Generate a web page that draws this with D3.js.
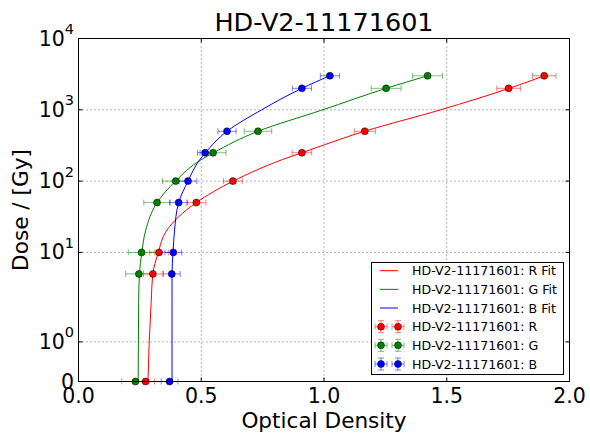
<!DOCTYPE html>
<html>
<head>
<meta charset="utf-8">
<script src="https://cdn.jsdelivr.net/npm/d3@7"></script>
<style>
    body { margin: 0; background: #fff; }
    text { font-family: "DejaVu Sans", sans-serif; fill: #000; }
</style>
</head>
<body>
<div id="chart"></div>
<script>
// measured doses and optical densities per channel
const doses = [0, 5, 10, 50, 100, 250, 500, 2000, 3000];
const odR = [0.273, 0.303, 0.328, 0.480, 0.629, 0.910, 1.166, 1.752, 1.897];
const odG = [0.232, 0.246, 0.257, 0.320, 0.396, 0.548, 0.731, 1.253, 1.422];
const odB = [0.371, 0.380, 0.386, 0.408, 0.446, 0.516, 0.605, 0.910, 1.024];
const errR = [0.037, 0.038, 0.038, 0.039, 0.038, 0.040, 0.043, 0.048, 0.048];
const errG = [0.056, 0.054, 0.054, 0.054, 0.054, 0.053, 0.056, 0.061, 0.061];
const errB = [0.034, 0.034, 0.034, 0.037, 0.036, 0.031, 0.037, 0.039, 0.039];

// fit curves
const fitDose = [0, 1, 2, 5, 10, 20, 50, 100, 200, 250, 500, 1000, 2000, 3000];
const fitR = [0.283, 0.288, 0.296, 0.303, 0.325, 0.358, 0.480, 0.630, 0.830, 0.910, 1.165, 1.475, 1.754, 1.897];
const fitG = [0.243, 0.244, 0.245, 0.248, 0.258, 0.273, 0.320, 0.395, 0.500, 0.550, 0.731, 0.995, 1.253, 1.422];
const fitB = [0.381, 0.381, 0.381, 0.381, 0.385, 0.391, 0.408, 0.446, 0.494, 0.517, 0.605, 0.746, 0.910, 1.023];

const xTicks = [0, 0.5, 1.0, 1.5, 2.0];
const yTicks = [0, 1, 10, 100, 1000, 10000];
const title = 'HD-V2-11171601';

const width = 590, height = 434;
const mL = 78.5, mR = 569.5, mT = 38.5, mB = 381.5;

// matplotlib style symlog (linthresh 2, linscale 1)
const linthresh = 2, linAdj = 1 / (1 - 1 / 10);
function symlog(v) {
    if (Math.abs(v) <= linthresh) return v * linAdj;
    return Math.sign(v) * linthresh * (linAdj + Math.log10(Math.abs(v) / linthresh));
}

const x = d3.scaleLinear().domain([0, 2]).range([mL, mR]);
const yLin = d3.scaleLinear().domain([symlog(0), symlog(10000)]).range([mB, mT]);
const y = v => yLin(symlog(v));

const svg = d3.select('#chart')
    .append('svg')
    .attr('width', width)
    .attr('height', height);

// grid
const grid = svg.append('g')
    .attr('stroke', '#000')
    .attr('stroke-width', 0.6)
    .attr('stroke-dasharray', '1,3');
xTicks.slice(1, -1).forEach(t => {
    grid.append('line')
        .attr('x1', x(t)).attr('x2', x(t))
        .attr('y1', mT).attr('y2', mB);
});
yTicks.slice(1, -1).forEach(t => {
    grid.append('line')
        .attr('x1', mL).attr('x2', mR)
        .attr('y1', y(t)).attr('y2', y(t));
});

const series = [
    { name: 'R', color: '#ff0000', od: odR, err: errR, fit: fitR },
    { name: 'G', color: '#008000', od: odG, err: errG, fit: fitG },
    { name: 'B', color: '#0000ff', od: odB, err: errB, fit: fitB }
];

const plot = svg.append('g');

// fit lines (ordered top to bottom so screen y increases)
const line = d3.line()
    .x(d => x(d[0]))
    .y(d => y(d[1]))
    .curve(d3.curveMonotoneY);

series.forEach(s => {
    const pts = fitDose.map((d, i) => [s.fit[i], d]).reverse();
    plot.append('path')
        .attr('d', line(pts))
        .attr('fill', 'none')
        .attr('stroke', s.color)
        .attr('stroke-width', 1);
});

// error bars
series.forEach(s => {
    const g = plot.append('g')
        .attr('stroke', s.color)
        .attr('stroke-opacity', 0.5)
        .attr('stroke-width', 1);
    doses.forEach((d, i) => {
        const x0 = x(s.od[i] - s.err[i]), x1 = x(s.od[i] + s.err[i]), yy = y(d);
        g.append('line').attr('x1', x0).attr('x2', x1).attr('y1', yy).attr('y2', yy);
        g.append('line').attr('x1', x0).attr('x2', x0).attr('y1', yy - 3).attr('y2', yy + 3);
        g.append('line').attr('x1', x1).attr('x2', x1).attr('y1', yy - 3).attr('y2', yy + 3);
    });
});

// markers
series.forEach(s => {
    plot.append('g')
        .selectAll('circle')
        .data(doses)
        .join('circle')
        .attr('cx', (d, i) => x(s.od[i]))
        .attr('cy', d => y(d))
        .attr('r', 3.5)
        .attr('fill', s.color)
        .attr('stroke', '#000')
        .attr('stroke-width', 0.5);
});

// frame
svg.append('rect')
    .attr('x', mL).attr('y', mT)
    .attr('width', mR - mL).attr('height', mB - mT)
    .attr('fill', 'none')
    .attr('stroke', '#000')
    .attr('stroke-width', 1);

// ticks, inside on all four sides
const ticks = svg.append('g').attr('stroke', '#000').attr('stroke-width', 1);
xTicks.forEach(t => {
    ticks.append('line').attr('x1', x(t)).attr('x2', x(t)).attr('y1', mB).attr('y2', mB - 4);
    ticks.append('line').attr('x1', x(t)).attr('x2', x(t)).attr('y1', mT).attr('y2', mT + 4);
});
yTicks.forEach(t => {
    ticks.append('line').attr('x1', mL).attr('x2', mL + 4).attr('y1', y(t)).attr('y2', y(t));
    ticks.append('line').attr('x1', mR).attr('x2', mR - 4).attr('y1', y(t)).attr('y2', y(t));
});

// tick labels
xTicks.forEach(t => {
    svg.append('text')
        .attr('x', x(t))
        .attr('y', 403)
        .attr('text-anchor', 'middle')
        .attr('font-size', 20.5)
        .text(t.toFixed(1));
});
yTicks.forEach(t => {
    const lbl = svg.append('text')
        .attr('x', 74)
        .attr('y', y(t) + 7)
        .attr('text-anchor', 'end')
        .attr('font-size', 20.5);
    if (t === 0) {
        lbl.text('0');
    } else {
        lbl.append('tspan').text('10');
        lbl.append('tspan')
            .attr('dy', -11.5)
            .attr('font-size', 14.5)
            .text(Math.round(Math.log10(t)));
    }
});

// axis labels and title
svg.append('text')
    .attr('x', (mL + mR) / 2)
    .attr('y', 428)
    .attr('text-anchor', 'middle')
    .attr('font-size', 21.6)
    .text('Optical Density');

svg.append('text')
    .attr('transform', `translate(27.5,${(mT + mB) / 2}) rotate(-90)`)
    .attr('text-anchor', 'middle')
    .attr('font-size', 21.6)
    .text('Dose / [Gy]');

svg.append('text')
    .attr('x', (mL + mR) / 2)
    .attr('y', 31)
    .attr('text-anchor', 'middle')
    .attr('font-size', 25.5)
    .text(title);

// legend
const leg = svg.append('g');
leg.append('rect')
    .attr('x', 371.5).attr('y', 262.5)
    .attr('width', 192).attr('height', 112)
    .attr('fill', '#fff')
    .attr('stroke', '#000')
    .attr('stroke-width', 1);

const rowY = i => 270.7 + i * 18.66;
const hx0 = 381, hx1 = 398;

series.forEach((s, i) => {
    leg.append('line')
        .attr('x1', hx0 - 1).attr('x2', hx1)
        .attr('y1', rowY(i)).attr('y2', rowY(i))
        .attr('stroke', s.color)
        .attr('stroke-width', 1);
    leg.append('text')
        .attr('x', 412).attr('y', rowY(i) + 4.5)
        .attr('font-size', 12.6)
        .text(`${title}: ${s.name} Fit`);
});

series.forEach((s, j) => {
    const i = j + 3, yy = rowY(i);
    const g = leg.append('g')
        .attr('stroke', s.color)
        .attr('stroke-opacity', 0.5)
        .attr('stroke-width', 1);
    [hx0, hx1].forEach(cx => {
        g.append('line').attr('x1', cx - 6).attr('x2', cx + 6).attr('y1', yy).attr('y2', yy);
        g.append('line').attr('x1', cx - 6).attr('x2', cx - 6).attr('y1', yy - 3).attr('y2', yy + 3);
        g.append('line').attr('x1', cx + 6).attr('x2', cx + 6).attr('y1', yy - 3).attr('y2', yy + 3);
        g.append('line').attr('x1', cx).attr('x2', cx).attr('y1', yy - 6).attr('y2', yy + 6);
        g.append('line').attr('x1', cx - 3).attr('x2', cx + 3).attr('y1', yy - 6).attr('y2', yy - 6);
        g.append('line').attr('x1', cx - 3).attr('x2', cx + 3).attr('y1', yy + 6).attr('y2', yy + 6);
    });
    [hx0, hx1].forEach(cx => {
        leg.append('circle')
            .attr('cx', cx).attr('cy', yy)
            .attr('r', 3.5)
            .attr('fill', s.color)
            .attr('stroke', '#000')
            .attr('stroke-width', 0.5);
    });
    leg.append('text')
        .attr('x', 412).attr('y', yy + 4.5)
        .attr('font-size', 12.6)
        .text(`${title}: ${s.name}`);
});
</script>
</body>
</html>
